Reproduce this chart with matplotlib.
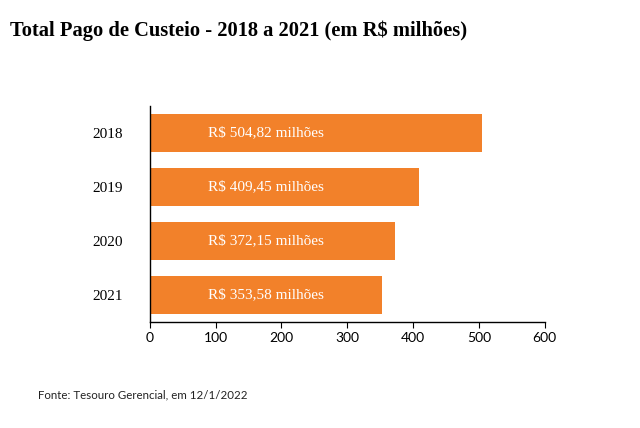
import matplotlib.pyplot as plt

years = ['2018', '2019', '2020', '2021']
values = [504.82, 409.45, 372.15, 353.58]
labels = ['R$ 504,82 milhões', 'R$ 409,45 milhões', 'R$ 372,15 milhões', 'R$ 353,58 milhões']
xticks = [0, 100, 200, 300, 400, 500, 600]

orange = '#f2812a'
serif = 'Liberation Serif'

fig = plt.figure(figsize=(6.4, 4.28), dpi=100)
ax = fig.add_axes([0.234, 0.2477, 0.617, 0.5047])

pos = list(range(len(years)))
ax.barh(pos, values, height=0.72, color=orange)
for p, lab in zip(pos, labels):
    ax.text(88, p, lab, color='white', va='center', ha='left',
            fontsize=11, family=serif)

ax.set_ylim(3.5, -0.5)
ax.set_xlim(0, 600)
ax.set_yticks(pos)
ax.set_yticklabels(years, family=serif, fontsize=11)
ax.set_xticks(xticks)
ax.set_xticklabels([str(t) for t in xticks], family='Lato', fontsize=10)
ax.tick_params(axis='y', length=0, pad=19)
ax.tick_params(axis='x', length=4, color='black')
for s in ['top', 'right']:
    ax.spines[s].set_visible(False)
for s in ['left', 'bottom']:
    ax.spines[s].set_color('black')
    ax.spines[s].set_linewidth(1)

fig.text(10 / 640, 1 - 31 / 428, 'Total Pago de Custeio - 2018 a 2021 (em R$ milhões)',
         fontsize=14.8, fontweight='bold', family=serif, va='center', ha='left')
fig.text(38 / 640, 1 - 395 / 428, 'Fonte: Tesouro Gerencial, em 12/1/2022',
         fontsize=8.3, family='Lato', va='center', ha='left', color='#222222')

fig.savefig('out.png', dpi=100)
